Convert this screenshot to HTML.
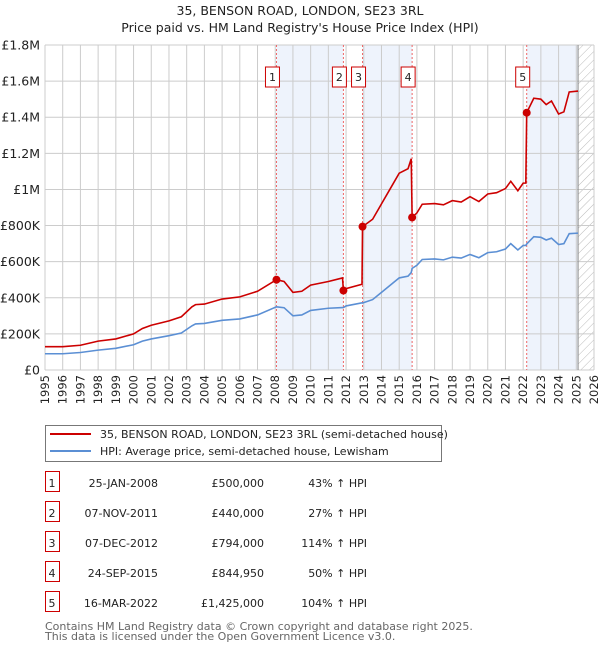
<!DOCTYPE html>
<html><head><meta charset="utf-8"><style>
body{margin:0;background:#fff;font-family:"Liberation Sans","DejaVu Sans",sans-serif}
svg{display:block}
</style></head><body>
<svg id="c" width="600" height="650" xmlns="http://www.w3.org/2000/svg" font-family="DejaVu Sans, Liberation Sans, sans-serif">
<text x="300" y="15" text-anchor="middle" font-size="12.5" fill="#222">35, BENSON ROAD, LONDON, SE23 3RL</text>
<text x="300" y="32" text-anchor="middle" font-size="12.5" fill="#222">Price paid vs. HM Land Registry's House Price Index (HPI)</text>
<g id="plot"></g>
<g>
<rect x="45.5" y="425.5" width="396" height="36" fill="#fff" stroke="#777"/>
<line x1="50" y1="434" x2="91" y2="434" stroke="#cc0000" stroke-width="2"/>
<text x="100" y="438" font-size="11" fill="#222">35, BENSON ROAD, LONDON, SE23 3RL (semi-detached house)</text>
<line x1="50" y1="451" x2="91" y2="451" stroke="#5b8fd4" stroke-width="2"/>
<text x="100" y="455" font-size="11" fill="#222">HPI: Average price, semi-detached house, Lewisham</text>
</g>
<g id="table"></g>
<text x="45" y="630" font-size="11" fill="#666">Contains HM Land Registry data © Crown copyright and database right 2025.</text>
<text x="45" y="640" font-size="11" fill="#666">This data is licensed under the Open Government Licence v3.0.</text>
</svg>
<script>
const dates=[1995.0,1996.0,1997.0,1998.0,1999.0,2000.0,2000.5,2001.0,2002.0,2002.7,2003.3,2003.5,2004.0,2005.0,2006.0,2007.0,2008.07,2008.5,2009.0,2009.5,2010.0,2011.0,2011.8,2011.85,2012.0,2012.9,2012.93,2013.5,2014.0,2014.5,2015.0,2015.5,2015.68,2015.73,2016.0,2016.3,2017.0,2017.5,2018.0,2018.5,2019.0,2019.5,2020.0,2020.5,2021.0,2021.3,2021.7,2022.0,2022.15,2022.2,2022.6,2023.0,2023.3,2023.6,2024.0,2024.3,2024.6,2025.1];
const hpiValues=[90,90,97,110,120,140,160,172,190,205,245,255,258,275,283,305,350,345,300,305,330,342,346,346,355,372,371,390,430,470,510,520,540,563,580,612,615,610,625,620,640,622,650,655,670,700,665,690,690,698,738,735,720,730,695,700,755,758];
const propertyValues=[129,129,137,160,172,200,230,248,272,295,350,362,365,393,405,436,500,490,430,436,470,490,510,440,451,475,794,835,920,1005,1090,1115,1170,845,870,918,922,915,938,930,960,933,975,982,1005,1045,993,1035,1035,1425,1505,1500,1470,1490,1418,1430,1540,1545];
const saleDates=[2008.07,2011.85,2012.93,2015.73,2022.2];
const salePrices=[500,440,794,844.95,1425];
const saleDateLabels=["25-JAN-2008","07-NOV-2011","07-DEC-2012","24-SEP-2015","16-MAR-2022"];
const salePriceLabels=["£500,000","£440,000","£794,000","£844,950","£1,425,000"];
const saleHpiLabels=["43% ↑ HPI","27% ↑ HPI","114% ↑ HPI","50% ↑ HPI","104% ↑ HPI"];
const yTicks=[0,200,400,600,800,1000,1200,1400,1600,1800];
const yTickLabels=["£0","£200K","£400K","£600K","£800K","£1M","£1.2M","£1.4M","£1.6M","£1.8M"];
const years=[1995,1996,1997,1998,1999,2000,2001,2002,2003,2004,2005,2006,2007,2008,2009,2010,2011,2012,2013,2014,2015,2016,2017,2018,2019,2020,2021,2022,2023,2024,2025,2026];
const shadeRanges=[[2008.07,2011.85],[2012.93,2015.73],[2022.2,2025.1]];
const dataEnd=2025.1;

const NS="http://www.w3.org/2000/svg";
const L=45,R=594,T=45,B=370;
const xs=v=>L+(v-1995)/(2026-1995)*(R-L);
const ys=v=>B-v/1800*(B-T);
const plot=document.getElementById('plot');
function mk(tag,attrs,parent){const e=document.createElementNS(NS,tag);for(const k in attrs)e.setAttribute(k,attrs[k]);(parent||plot).appendChild(e);return e;}
const defs=mk('defs',{});
const pat=mk('pattern',{id:'hatch',width:6,height:6,patternUnits:'userSpaceOnUse',patternTransform:'rotate(45)'},defs);
mk('line',{x1:0,y1:0,x2:0,y2:6,stroke:'#bbb','stroke-width':1},pat);
shadeRanges.forEach(r=>{const e=mk('rect',{x:xs(r[0]),y:T,width:xs(r[1])-xs(r[0]),height:B-T,fill:'#eef3fc'});

});
const h=mk('rect',{x:xs(dataEnd),y:T,width:R-xs(dataEnd),height:B-T,fill:'url(#hatch)'});


years.forEach(y=>{const g=mk('line',{x1:xs(y),x2:xs(y),y1:T,y2:B,stroke:'#ccc','stroke-width':1});


const t=mk('text',{x:0,y:0,'font-size':11.5,fill:'#222','text-anchor':'end',transform:`translate(${xs(y)+4},${B+5}) rotate(-90)`});
t.textContent=y;

});
yTicks.forEach((v,i)=>{const g=mk('line',{x1:L,x2:R,y1:ys(v),y2:ys(v),stroke:'#ccc','stroke-width':1});


const t=mk('text',{x:40,y:ys(v)+4.5,'font-size':12.5,fill:'#222','text-anchor':'end'});
t.textContent=yTickLabels[i];

});
mk('line',{x1:xs(dataEnd),x2:xs(dataEnd),y1:T,y2:B,stroke:'#888','stroke-width':1});
saleDates.forEach(d=>{const e=mk('line',{x1:xs(d),x2:xs(d),y1:T,y2:B,stroke:'#e66','stroke-width':1,'stroke-dasharray':'2,2'});

});
const hp=mk('polyline',{points:dates.map((d,i)=>xs(d)+','+ys(hpiValues[i])).join(' '),fill:'none',stroke:'#5b8fd4','stroke-width':1.6});


const pp=mk('polyline',{points:dates.map((d,i)=>xs(d)+','+ys(propertyValues[i])).join(' '),fill:'none',stroke:'#cc0000','stroke-width':1.6});


saleDates.forEach((d,i)=>{const c=mk('circle',{cx:xs(d),cy:ys(salePrices[i]),r:4,fill:'#cc0000'});


const bx=xs(d)-3;
const r=mk('rect',{x:bx-8,y:67,width:14,height:20,fill:'#fff',stroke:'#cc0000','stroke-width':1});


const t=mk('text',{x:bx-1,y:81,'font-size':11,'text-anchor':'middle',fill:'#222'});
t.textContent=i+1;

});
const tb=document.getElementById('table');
saleDates.forEach((d,i)=>{const y=483+i*30;
const r=mk('rect',{x:45.5,y:y-11.5,width:14,height:20,fill:'#fff',stroke:'#cc0000'},tb);


const cells=[[52,'middle',String(i+1)],[158,'end',saleDateLabels[i]],[264,'end',salePriceLabels[i]],[367,'end',saleHpiLabels[i]]];
const names=['table-row-number','table-date','table-price','table-hpi-change'];
cells.forEach((c,j)=>{const t=mk('text',{x:c[0],y:y+4,'font-size':11,'text-anchor':c[1],fill:'#222'},tb);
t.textContent=c[2];

});});
</script>
</body></html>
